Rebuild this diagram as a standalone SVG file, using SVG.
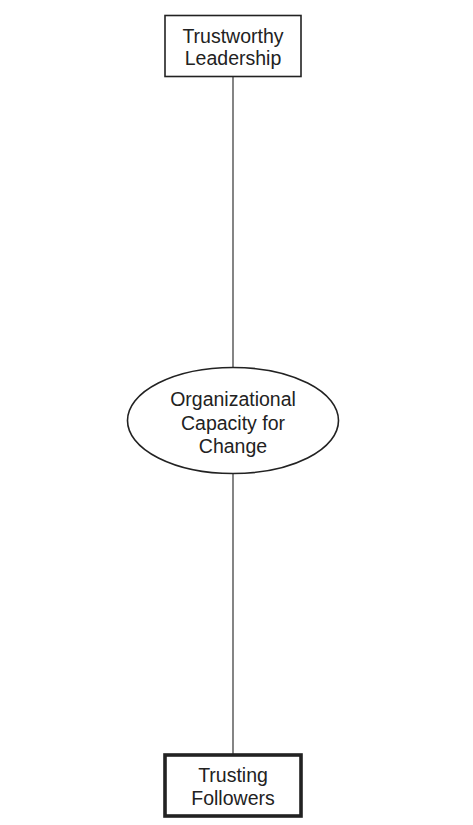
<svg xmlns="http://www.w3.org/2000/svg" width="473" height="825" viewBox="0 0 473 825">
<style>
text{font-family:"Liberation Sans",Arial,sans-serif;font-size:19.5px;fill:#222;text-anchor:middle}
.c{stroke:#333;stroke-width:1.2;fill:none}
</style>
<rect width="473" height="825" fill="#fff"/>
<g id="connectors">
<line class="c" x1="233" y1="77" x2="233" y2="367"/>
<line class="c" x1="233" y1="474" x2="233" y2="754"/>
</g>
<g id="leadership">
<rect x="165" y="15.5" width="136" height="61" fill="#fff" stroke="#222" stroke-width="1.6"/>
<text x="233" y="43">Trustworthy</text>
<text x="233" y="64.5">Leadership</text>
</g>
<g id="capacity">
<ellipse cx="233" cy="420.5" rx="105.5" ry="53" fill="#fff" stroke="#222" stroke-width="1.6"/>
<text x="233" y="406">Organizational</text>
<text x="233" y="430">Capacity for</text>
<text x="233" y="453">Change</text>
</g>
<g id="followers">
<rect x="165" y="755" width="136" height="61" fill="#fff" stroke="#222" stroke-width="3.6"/>
<text x="233" y="782">Trusting</text>
<text x="233" y="805">Followers</text>
</g>
</svg>
